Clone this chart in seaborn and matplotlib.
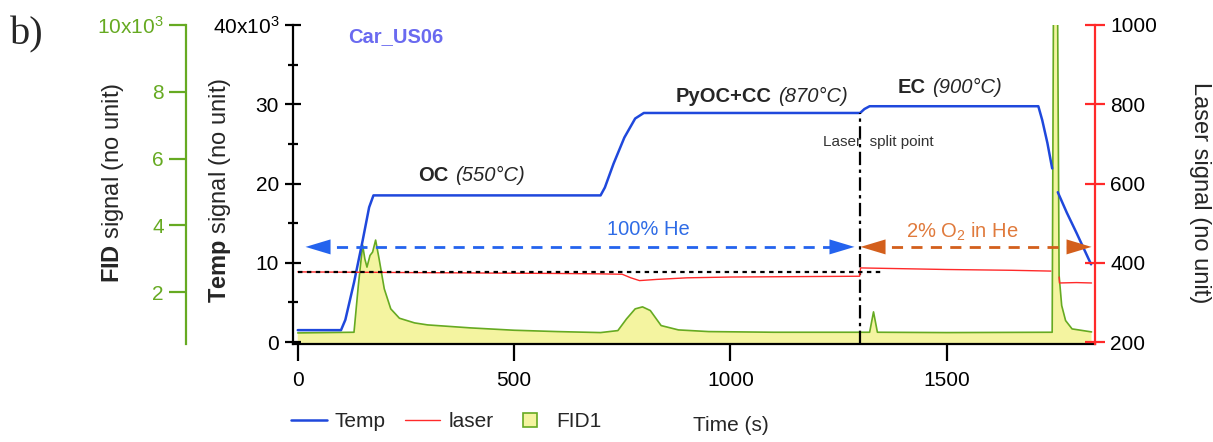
import matplotlib
matplotlib.use("Agg")
import matplotlib.pyplot as plt
import pandas as pd
import seaborn as sns
from matplotlib.lines import Line2D
from matplotlib.ticker import MultipleLocator

# ---------------- data ----------------
temp_time = [0, 100, 110, 130, 150, 165, 175, 700, 710, 730, 755, 780, 800,
             1300, 1310, 1322, 1712, 1721, 1733, 1744,
             1757, 1778, 1800, 1834]
temp_val = [1.5, 1.5, 2.8, 7.5, 12.8, 17.0, 18.5, 18.5, 19.5, 22.5, 25.8, 28.2, 28.9,
            28.9, 29.4, 29.75, 29.75, 28.0, 25.1, 21.9,
            18.9, 16.3, 13.8, 9.8]
temp_seg = ["a"] * 20 + ["b"] * 4

laser_time = [0, 150, 300, 450, 600, 700, 750, 770, 790, 830, 900, 1000, 1150,
              1299, 1301, 1350, 1500, 1650, 1741,
              1760, 1761, 1800, 1835]
laser_val = [377, 376, 375, 374, 373, 372, 371, 362, 355, 358, 362, 364, 365,
             366, 387, 386, 383, 381, 379,
             364, 349, 350, 349]
laser_seg = ["a"] * 19 + ["b"] * 4

fid_time = [0, 130, 140, 150, 155, 160, 167, 173, 180, 188, 200, 215, 235, 270,
            300, 400, 500, 600, 700, 740, 760, 780, 797, 815, 840, 880, 950,
            1100, 1300, 1322, 1331, 1340, 1500, 1744, 1748, 1755, 1760, 1766,
            1775, 1790, 1835]
fid_val = [0.78, 0.80, 2.2, 3.41, 3.0, 2.75, 3.1, 3.2, 3.56, 3.0, 2.1, 1.5, 1.22,
           1.08, 1.02, 0.93, 0.86, 0.82, 0.79, 0.85, 1.2, 1.5, 1.56, 1.45, 1.0,
           0.87, 0.82, 0.80, 0.80, 0.80, 1.41, 0.80, 0.79, 0.80, 14.0, 14.0,
           2.5, 1.6, 1.15, 0.90, 0.81]

x_ticks = [0, 500, 1000, 1500]
temp_ticks = [0, 10, 20, 30, 40]
temp_ticklabels = ["0", "10", "20", "30", "40x10$^{3}$"]
laser_ticks = [200, 400, 600, 800, 1000]
fid_ticks = [2, 4, 6, 8, 10]
fid_ticklabels = ["2", "4", "6", "8", "10x10$^{3}$"]

split_time = 1300
split_level = 377

# ---------------- style ----------------
sns.set_style("ticks")
plt.rcParams["font.family"] = ["Liberation Sans", "DejaVu Sans"]
plt.rcParams["mathtext.fontset"] = "custom"
plt.rcParams["mathtext.rm"] = "Liberation Sans"
plt.rcParams["mathtext.bf"] = "Liberation Sans:bold"
plt.rcParams["mathtext.it"] = "Liberation Sans:italic"

BLUE = "#1f48dc"
RED = "#ff2a2a"
GREEN = "#66aa22"
YELLOW = "#f4f4a0"
ARROW_BLUE = "#2463ee"
TXT_BLUE = "#2f6ce6"
ORANGE = "#d35f1c"
TXT_ORANGE = "#e07a3c"
TICK_FS = 15
LABEL_FS = 17

fig = plt.figure(figsize=(12.13, 4.42), dpi=100)
ax = fig.add_axes([0.24155, 0.22262, 0.66117, 0.72082])
ax_fid = ax.twinx()
ax_las = ax.twinx()
ax_fid.set_zorder(0)
ax.set_zorder(1)
ax_las.set_zorder(2)
for a in (ax, ax_fid, ax_las):
    a.patch.set_visible(False)
    for s in a.spines.values():
        s.set_visible(False)
        s.set_linewidth(1.6)

# ---------------- FID (fill + line) ----------------
ax_fid.fill_between(fid_time, fid_val, 0, color=YELLOW, lw=0, zorder=1)
sns.lineplot(x=fid_time, y=fid_val, ax=ax_fid, color=GREEN, lw=1.2,
             estimator=None, sort=False, zorder=2)
ax_fid.set_ylim(0.46, 10)
ax_fid.spines["left"].set_visible(True)
ax_fid.spines["left"].set_position(("axes", -0.1334))
ax_fid.spines["left"].set_color(GREEN)
ax_fid.yaxis.set_ticks_position("left")
ax_fid.set_yticks(fid_ticks)
ax_fid.set_yticklabels(fid_ticklabels)
ax_fid.tick_params(axis="y", which="major", direction="out", length=12, width=1.6,
                   colors=GREEN, pad=4, labelsize=TICK_FS, left=True, right=False,
                   labelleft=True, labelright=False)
ax_fid.set_ylabel("")

# ---------------- Temp ----------------
df_temp = pd.DataFrame({"t": temp_time, "v": temp_val, "seg": temp_seg})
sns.lineplot(data=df_temp, x="t", y="v", units="seg", estimator=None, sort=False,
             color=BLUE, lw=1.8, ax=ax, legend=False, zorder=3)
ax.set_xlim(-11, 1843)
ax.set_ylim(-0.2, 40)
ax.spines["left"].set_visible(True)
ax.spines["bottom"].set_visible(True)
ax.spines["left"].set_color("black")
ax.spines["bottom"].set_color("black")
ax.set_xticks(x_ticks)
ax.set_yticks(temp_ticks)
ax.set_yticklabels(temp_ticklabels)
ax.yaxis.set_minor_locator(MultipleLocator(5))
ax.tick_params(axis="y", which="major", direction="inout", length=12, width=1.6,
               colors="black", labelsize=TICK_FS, pad=4, left=True, right=False)
ax.tick_params(axis="y", which="minor", direction="inout", length=6.5, width=1.6,
               colors="black", left=True, right=False)
ax.tick_params(axis="x", which="major", direction="out", length=12, width=1.6,
               colors="black", labelsize=TICK_FS, pad=8, bottom=True, top=False)
ax.set_ylabel("")
ax.set_xlabel("Time (s)", fontsize=TICK_FS)
ax.xaxis.set_label_coords(0.546, -0.228)

# ---------------- Laser ----------------
df_las = pd.DataFrame({"t": laser_time, "v": laser_val, "seg": laser_seg})
sns.lineplot(data=df_las, x="t", y="v", units="seg", estimator=None, sort=False,
             color=RED, lw=1.0, ax=ax_las, legend=False, zorder=3)
ax_las.set_ylim(196, 1000)
ax_las.spines["right"].set_visible(True)
ax_las.spines["right"].set_color(RED)
ax_las.set_yticks(laser_ticks)
ax_las.tick_params(axis="y", which="major", direction="inout", length=14, width=1.6,
                   color=RED, labelcolor="black", labelsize=TICK_FS, pad=4,
                   right=True, left=False, labelright=True, labelleft=False)
ax_las.set_ylabel("")
ax_las.set_xlabel("")
ax_las.hlines(split_level, 0, 1355, colors="black", linestyles=(0, (2, 2)), lw=1.6,
              zorder=4)

# ---------------- annotations ----------------
ax.vlines(split_time, -0.2, 28.9, colors="black", linestyles=(0, (6, 2, 1.5, 2)),
          lw=1.6, zorder=5)
ax.text(1341, 25.3, "Laser  split point", fontsize=11, color="#333333",
        ha="center", va="center", zorder=6)


def double_arrow(x0, x1, y, color):
    head = 55  # arrow head length in data units (time)
    ax.hlines(y, x0 + head * 0.5, x1 - head * 0.5, colors=color,
              linestyles=(0, (4, 3)), lw=2, zorder=6)
    for tip, base in ((x0, x0 + head), (x1, x1 - head)):
        ax.annotate("", xy=(tip, y), xytext=(base, y),
                    arrowprops=dict(arrowstyle="-|>,head_length=1.0,head_width=0.3",
                                    color=color, lw=0, shrinkA=0, shrinkB=0,
                                    mutation_scale=18), zorder=7)


double_arrow(18, 1287, 12, ARROW_BLUE)
double_arrow(1301, 1835, 12, ORANGE)
ax.text(811, 14.2, "100% He", fontsize=14.5, color=TXT_BLUE, ha="center", va="center")
ax.text(1537, 13.9, "2% O$_2$ in He", fontsize=14.5, color=TXT_ORANGE,
        ha="center", va="center")

for x, y, bold, ital in [(356, 21.0, "OC", "(550\u00b0C)"),
                         (1103, 31.0, "PyOC+CC", "(870\u00b0C)"),
                         (1459, 32.15, "EC", "(900\u00b0C)")]:
    ax.annotate(bold, xy=(x, y), xytext=(-2.5, 0), textcoords="offset points",
                fontsize=14.5, fontweight="bold", ha="right", va="center")
    ax.annotate(ital, xy=(x, y), xytext=(2.5, 0), textcoords="offset points",
                fontsize=14.5, fontstyle="italic", ha="left", va="center")

ax.text(0.0686, 0.965, "Car_US06", transform=ax.transAxes, fontsize=14.5,
        fontweight="bold", color="#6a6af0", ha="left", va="center")

fig.text(0.008, 0.921, "b)", fontsize=29, family="Liberation Serif", va="center",
         ha="left")
fig.text(113 / 1213, 0.586, r"$\mathbf{FID}$ signal (no unit)", rotation=90,
         fontsize=LABEL_FS, ha="center", va="center")
fig.text(220 / 1213, 0.570, r"$\mathbf{Temp}$ signal (no unit)", rotation=90,
         fontsize=LABEL_FS, ha="center", va="center")
fig.text(1200 / 1213, 0.563, "Laser signal (no unit)", rotation=-90,
         fontsize=LABEL_FS, ha="center", va="center")

# ---------------- legend ----------------
handles = [Line2D([], [], color=BLUE, lw=1.8),
           Line2D([], [], color=RED, lw=1.0),
           Line2D([], [], marker="s", ls="none", markersize=10,
                  markerfacecolor=YELLOW, markeredgecolor=GREEN,
                  markeredgewidth=1.2)]
fig.legend(handles, ["Temp", "laser", "FID1"], loc="center left",
           bbox_to_anchor=(0.240, 0.046), ncol=3, frameon=False, fontsize=TICK_FS,
           handlelength=1.7, handletextpad=0.4, columnspacing=0.9,
           borderaxespad=0, borderpad=0)

fig.savefig("out.png", dpi=100)
